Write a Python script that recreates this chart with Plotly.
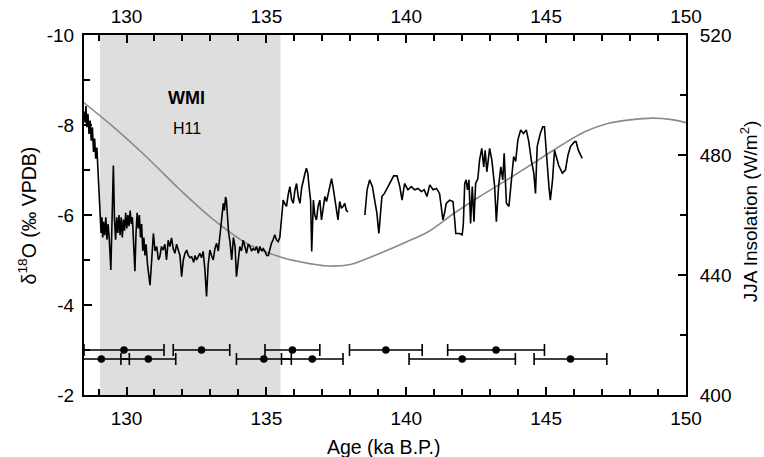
import plotly.graph_objects as go

# ---------------- data ----------------
# delta18O record (ka B.P., permil VPDB); None marks the hiatus
d18o_age = [
    128.48, 128.52, 128.55, 128.58, 128.62, 128.66, 128.70, 128.74, 128.78, 128.82,
    128.86, 128.90, 128.94, 128.98, 129.02, 129.06, 129.09, 129.12, 129.15, 129.18,
    129.22, 129.26, 129.30, 129.34, 129.38, 129.44, 129.48, 129.53, 129.57, 129.61,
    129.65, 129.69, 129.73, 129.77, 129.81, 129.85, 129.89, 129.93, 129.97, 130.01,
    130.05, 130.09, 130.13, 130.17, 130.21, 130.25, 130.30, 130.34, 130.38, 130.42,
    130.46, 130.50, 130.54, 130.58, 130.62, 130.66, 130.70, 130.75, 130.80, 130.84,
    130.90, 130.96, 131.02, 131.08, 131.14, 131.19, 131.25, 131.31, 131.37, 131.43,
    131.49, 131.55, 131.61, 131.67, 131.73, 131.79, 131.85, 131.91, 131.97, 132.03,
    132.09, 132.15, 132.21, 132.27, 132.33, 132.40, 132.45, 132.50, 132.56, 132.62,
    132.68, 132.74, 132.80, 132.86, 132.92, 132.98, 133.04, 133.10, 133.16, 133.22,
    133.28, 133.34, 133.40, 133.46, 133.50, 133.54, 133.57, 133.61, 133.65, 133.70,
    133.76, 133.82, 133.88, 133.93, 133.99, 134.05, 134.11, 134.17, 134.23, 134.29,
    134.35, 134.41, 134.47, 134.53, 134.59, 134.65, 134.71, 134.77, 134.83, 134.89,
    134.95, 135.01, 135.07, 135.13, 135.18, 135.24, 135.30, 135.36, 135.42, 135.48,
    135.54, 135.60, 135.66, 135.72, 135.78, 135.84, 135.90, 135.96, 136.02, 136.08,
    136.14, 136.20, 136.26, 136.31, 136.37, 136.43, 136.48, 136.53, 136.58, 136.62,
    136.65, 136.68, 136.73, 136.79, 136.85, 136.91, 136.97, 137.03, 137.09, 137.15,
    137.21, 137.27, 137.33, 137.38, 137.44, 137.50, 137.56, 137.62, 137.68, 137.74,
    137.80, 137.86, 137.92,
    None,
    138.52, 138.60, 138.69, 138.79, 138.87, 138.95, 139.02, 139.08, 139.13, 139.22,
    139.35, 139.47, 139.55, 139.67, 139.77, 139.85, 139.94, 140.06, 140.18, 140.30,
    140.42, 140.54, 140.64, 140.74, 140.84, 140.96, 141.08, 141.19, 141.25, 141.31,
    141.37, 141.43, 141.55, 141.67, 141.73, 141.77, 141.90, 142.00, 142.04, 142.09,
    142.14, 142.19, 142.24, 142.30, 142.36, 142.42, 142.48, 142.56, 142.62, 142.70,
    142.77, 142.82, 142.88, 142.98, 143.06, 143.16, 143.22, 143.30, 143.38, 143.45,
    143.50, 143.58, 143.67, 143.76, 143.84, 143.91, 143.99, 144.09, 144.19, 144.29,
    144.38, 144.47, 144.56, 144.62, 144.68, 144.79, 144.88, 144.94, 145.02, 145.10,
    145.15, 145.23, 145.30, 145.38, 145.45, 145.58, 145.69, 145.78, 145.87, 145.96,
    146.02, 146.07, 146.15, 146.29,
]
d18o_val = [
    -8.30, -8.05, -8.42, -7.95, -8.25, -7.80, -8.10, -7.65, -7.95, -7.40,
    -7.70, -7.25, -7.50, -7.05, -6.60, -6.10, -5.60, -5.95, -5.50, -5.85,
    -5.55, -5.95, -5.45, -5.80, -5.50, -4.78, -5.70, -7.10, -5.90, -5.45,
    -5.95, -5.60, -6.00, -5.55, -5.95, -5.50, -5.90, -5.65, -6.05, -5.70,
    -6.00, -5.75, -6.10, -5.80, -5.95, -5.40, -4.75, -5.60, -6.05, -5.70,
    -6.00, -5.50, -5.80, -5.20, -5.50, -5.10, -5.35, -4.90, -4.60, -4.44,
    -5.00, -5.59, -5.20, -5.30, -5.00, -5.07, -5.30, -5.22, -5.35, -5.00,
    -5.44, -5.30, -5.49, -5.25, -5.15, -5.35, -5.22, -5.10, -4.63, -5.00,
    -5.15, -5.22, -5.10, -5.05, -5.07, -4.95, -5.10, -5.00, -5.07, -5.15,
    -5.05, -5.19, -4.80, -4.19, -4.90, -5.22, -5.10, -5.00, -5.25, -5.37,
    -5.20, -5.59, -5.90, -6.26, -6.10, -6.40, -6.33, -5.90, -5.60, -5.40,
    -5.00, -5.50, -5.30, -4.63, -5.00, -5.30, -5.20, -5.44, -5.30, -5.15,
    -5.35, -5.30, -5.20, -5.25, -5.22, -5.30, -5.15, -5.30, -5.20, -5.25,
    -5.19, -5.10, -5.10, -5.25, -5.37, -5.45, -5.56, -5.45, -5.41, -5.50,
    -5.90, -6.33, -6.25, -6.19, -6.45, -6.63, -6.35, -6.26, -6.55, -6.70,
    -6.40, -6.26, -6.60, -6.78, -6.90, -7.04, -6.93, -6.60, -6.33, -5.19,
    -5.60, -6.33, -6.00, -5.89, -6.20, -6.33, -5.89, -6.20, -6.41, -6.30,
    -6.48, -6.60, -6.81, -6.63, -6.40, -6.19, -5.89, -6.30, -6.15, -6.19,
    -6.26, -6.10, -6.07,
    None,
    -6.00, -6.56, -6.78, -6.63, -6.33, -6.04, -5.59, -6.10, -6.41, -6.48,
    -6.63, -6.78, -6.87, -6.87, -6.63, -6.33, -6.70, -6.56, -6.63, -6.56,
    -6.59, -6.52, -6.56, -6.41, -6.67, -6.56, -6.59, -6.48, -6.19, -5.89,
    -6.05, -6.26, -6.33, -6.30, -5.90, -5.59, -5.59, -5.56, -5.80, -6.70,
    -6.78, -6.56, -6.78, -5.81, -6.63, -5.85, -6.70, -6.81, -7.22, -7.48,
    -7.07, -7.44, -6.96, -7.48, -7.22, -6.63, -5.85, -6.63, -7.07, -6.78,
    -7.37, -6.26, -6.19, -6.70, -7.30, -7.19, -7.67, -7.89, -7.81, -7.89,
    -7.63, -7.22, -6.93, -6.48, -7.52, -7.81, -7.96, -7.96, -7.22, -6.63,
    -6.33, -6.78, -7.44, -7.22, -7.10, -6.93, -7.00, -7.33, -7.52, -7.59,
    -7.63, -7.63, -7.44, -7.26,
]

# JJA insolation (W/m^2)
ins_age = [128.48, 129.5, 130.7, 131.9, 133.1, 134.3, 135.5, 136.2, 137.2, 138.0,
           139.0, 140.0, 140.8, 141.7, 142.6, 143.6, 144.5, 145.5, 146.4, 147.2,
           148.0, 148.8, 149.5, 150.0]
ins_val = [497.4, 489.6, 479.5, 468.5, 458.5, 450.5, 446.0, 444.4, 443.0, 443.5,
           447.0, 451.0, 454.5, 460.5, 466.0, 471.7, 477.0, 483.0, 487.8, 490.5,
           491.7, 492.3, 491.8, 490.8]

# U-Th dates with 2-sigma errors (two staggered rows)
date_age = [129.91, 132.68, 135.93, 139.27, 143.21,
            129.10, 130.78, 134.91, 136.64, 142.00, 145.87]
date_err = [1.43, 1.01, 0.98, 1.30, 1.73,
            1.00, 0.98, 0.98, 1.10, 1.90, 1.30]
date_row = [-3.0, -3.0, -3.0, -3.0, -3.0,
            -2.8, -2.8, -2.8, -2.8, -2.8, -2.8]

wmi_interval = [129.05, 135.5]
x_range = [128.48, 150]
age_ticks = [130, 135, 140, 145, 150]
age_minor = [v for v in range(129, 150) if v % 5 != 0]
d18o_range = [-2, -10]
d18o_ticks = [-10, -8, -6, -4, -2]
d18o_ticktext = ["-10", "-8", "-6", "-4", "-2"]
d18o_minor = [-9, -7, -5, -3]
ins_range = [400, 520]
ins_ticks = [400, 440, 480, 520]
ins_minor = [420, 460, 500]

FONT = "Liberation Sans, Arial, Helvetica, sans-serif"
TICKF = dict(family=FONT, size=19, color="black")

fig = go.Figure()

fig.add_trace(go.Scatter(x=ins_age, y=ins_val, mode="lines", xaxis="x", yaxis="y",
                         line=dict(color="#8a8a8a", width=1.6, shape="spline"),
                         showlegend=False, hoverinfo="skip"))
fig.add_trace(go.Scatter(x=d18o_age, y=d18o_val, mode="lines", xaxis="x2", yaxis="y2",
                         line=dict(color="black", width=1.6), connectgaps=False,
                         showlegend=False))
fig.add_trace(go.Scatter(x=date_age, y=date_row, mode="markers", xaxis="x2", yaxis="y2",
                         marker=dict(color="black", size=7.5),
                         error_x=dict(type="data", array=date_err, color="black",
                                      thickness=1.6, width=6),
                         showlegend=False, cliponaxis=True))

fig.add_shape(type="rect", xref="x", yref="paper", x0=wmi_interval[0], x1=wmi_interval[1],
              y0=0, y1=1, fillcolor="#dedede", line=dict(width=0), layer="below")

axis_common = dict(showgrid=False, zeroline=False, showline=True, linecolor="black",
                   linewidth=2, ticks="inside", ticklen=8, tickwidth=1.5, tickcolor="black",
                   tickfont=TICKF, layer="above traces")


def minor_of(vals):
    return dict(ticks="inside", tickmode="array", tickvals=vals, ticklen=6, tickwidth=1.5,
                tickcolor="black", showgrid=False)


fig.update_layout(
    template="none",
    width=764, height=457,
    margin=dict(l=84, r=78, t=35, b=62),
    paper_bgcolor="white", plot_bgcolor="rgba(0,0,0,0)",
    font=dict(family=FONT, color="black"),
    xaxis=dict(range=x_range, tickmode="array", tickvals=age_ticks, side="bottom",
               anchor="y", ticklabelstandoff=5, minor=minor_of(age_minor), **axis_common),
    xaxis2=dict(range=x_range, tickmode="array", tickvals=age_ticks, side="top",
                overlaying="x", anchor="y2", ticklabelstandoff=2,
                minor=minor_of(age_minor), **axis_common),
    yaxis=dict(range=ins_range, tickmode="array", tickvals=ins_ticks, side="right",
               anchor="x", ticklabelstandoff=8, minor=minor_of(ins_minor), **axis_common),
    yaxis2=dict(range=d18o_range, tickmode="array", tickvals=d18o_ticks,
                ticktext=d18o_ticktext, side="left", overlaying="y", anchor="x2",
                ticklabelstandoff=4, minor=minor_of(d18o_minor), **axis_common),
)

fig.add_annotation(text="<b>WMI</b>", x=132.15, y=-8.6, xref="x2", yref="y2",
                   showarrow=False, font=dict(family=FONT, size=18, color="black"))
fig.add_annotation(text="H11", x=132.15, y=-7.93, xref="x2", yref="y2",
                   showarrow=False, font=dict(family=FONT, size=16, color="black"))

fig.add_annotation(text="Age (ka B.P.)", x=0.497, y=-0.145, xref="paper", yref="paper",
                   xanchor="center", yanchor="middle", showarrow=False,
                   font=dict(family=FONT, size=19.5, color="black"))
fig.add_annotation(text="δ<sup>18</sup>O (‰ VPDB)", x=-0.094, y=0.5, xref="paper",
                   yref="paper", xanchor="center", yanchor="middle", textangle=-90,
                   showarrow=False, font=dict(family=FONT, size=19.5, color="black"))
fig.add_annotation(text="JJA Insolation (W/m<sup>2</sup>)", x=1.106, y=0.51, xref="paper",
                   yref="paper", xanchor="center", yanchor="middle", textangle=-90,
                   showarrow=False, font=dict(family=FONT, size=19, color="black"))

fig.write_html("out.html")
